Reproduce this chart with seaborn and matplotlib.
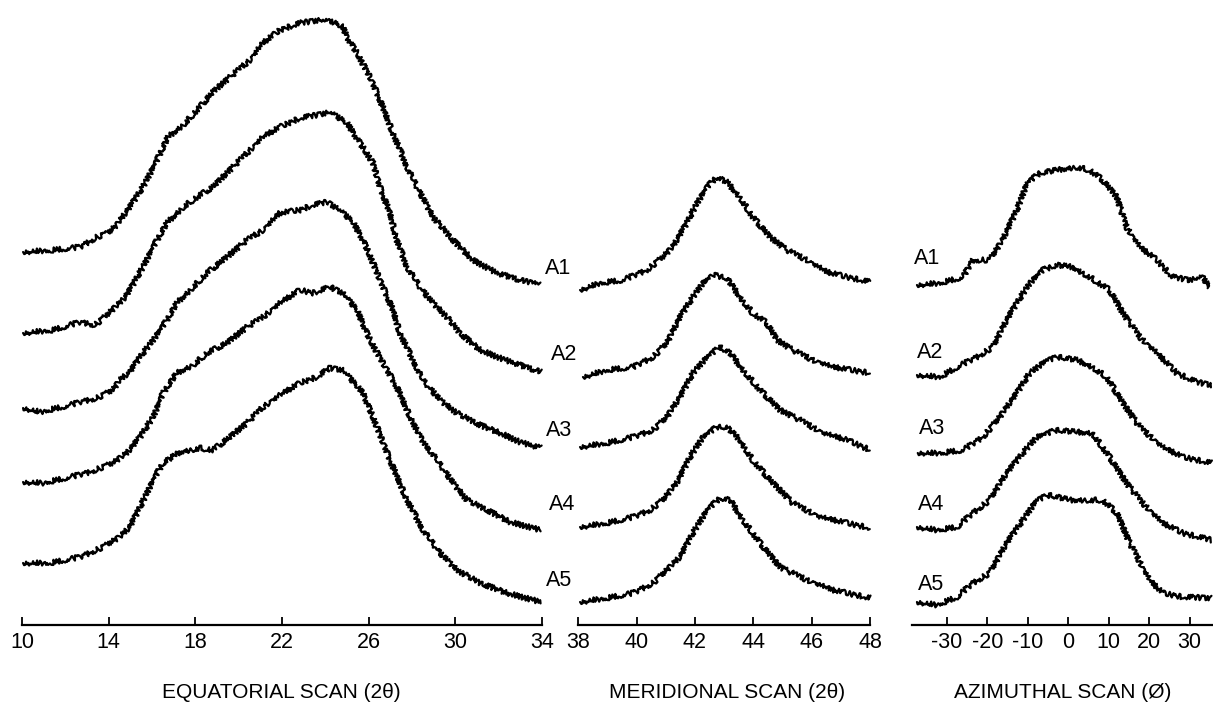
import matplotlib
matplotlib.use("Agg")
import matplotlib.pyplot as plt
import numpy as np
import pandas as pd
import seaborn as sns

# ---------------------------------------------------------------------------
# Stacked X-ray scans of samples A1..A5 (intensity includes vertical offset)
# ---------------------------------------------------------------------------
SAMPLES = ["A1", "A2", "A3", "A4", "A5"]

# Equatorial scan, 2-theta (deg)
EQ_A1_X = [10.05, 11.43, 12.68, 13.46, 13.97, 14.38, 14.98, 15.58, 16.23, 16.74, 17.43, 18.21,
           18.81, 19.60, 20.52, 21.12, 21.91, 22.83, 23.75, 24.35, 24.81, 25.00, 25.46, 26.06,
           26.52, 27.12, 27.77, 28.37, 28.97, 29.89, 30.81, 31.92, 32.98, 33.90]
EQ_A1_Y = [373, 375, 378, 388, 392, 400, 418, 438, 465, 488, 500, 518,
           533, 548, 565, 582, 595, 602, 605, 603, 598, 588, 572, 548,
           525, 492, 458, 432, 408, 385, 365, 352, 345, 340]

EQ_A2_X = [10.05, 11.43, 12.68, 13.37, 13.92, 14.66, 14.98, 15.58, 16.05, 16.69, 17.43, 18.08,
           18.81, 19.46, 20.38, 21.12, 21.91, 22.83, 23.61, 24.21, 25.00, 25.60, 26.20, 26.52,
           26.98, 27.30, 27.77, 28.37, 28.83, 29.61, 30.21, 31.14, 32.06, 32.98, 33.95]
EQ_A2_Y = [292, 295, 303, 300, 310, 325, 335, 358, 378, 402, 418, 428,
           438, 452, 472, 488, 498, 507, 510, 513, 502, 482, 462, 438,
           412, 385, 358, 338, 325, 308, 292, 275, 267, 260, 253]

EQ_A3_X = [10.05, 10.83, 12.22, 12.68, 13.46, 14.20, 14.52, 14.98, 15.45, 16.05, 16.69, 17.15,
           17.89, 18.54, 19.46, 20.38, 21.12, 21.91, 22.83, 23.43, 24.08, 24.67, 25.27, 25.74,
           26.20, 26.66, 27.12, 27.44, 28.04, 28.50, 29.29, 30.07, 31.14, 32.06, 32.98, 33.95]
EQ_A3_Y = [217, 213, 220, 223, 227, 235, 245, 253, 268, 285, 305, 322,
           338, 352, 368, 385, 395, 412, 415, 420, 423, 415, 403, 385,
           362, 338, 315, 292, 265, 245, 225, 212, 200, 192, 183, 177]

EQ_A4_X = [10.05, 10.97, 12.22, 13.14, 14.20, 14.85, 15.45, 16.05, 16.51, 17.15, 17.89, 18.54,
           19.46, 20.38, 21.12, 21.91, 22.83, 23.43, 24.21, 24.81, 25.46, 26.06, 26.66, 27.30,
           27.77, 28.37, 29.15, 29.89, 30.54, 31.46, 32.52, 33.95]
EQ_A4_Y = [143, 142, 148, 153, 162, 172, 188, 208, 232, 252, 260, 272,
           282, 298, 308, 322, 335, 332, 338, 332, 315, 285, 262, 238,
           215, 188, 165, 142, 125, 115, 103, 95]

EQ_A5_X = [10.05, 11.29, 12.68, 13.74, 14.52, 14.98, 15.45, 16.05, 16.51, 17.29, 18.21, 18.81,
           19.60, 20.38, 21.12, 21.91, 22.83, 23.61, 24.21, 24.81, 25.74, 26.38, 26.98, 27.77,
           28.51, 29.29, 30.07, 31.14, 32.38, 33.95]
EQ_A5_Y = [62, 62, 68, 78, 88, 98, 118, 145, 162, 173, 177, 175,
           188, 202, 218, 230, 242, 248, 257, 255, 232, 198, 165, 125,
           95, 72, 55, 42, 32, 23]

# Meridional scan, 2-theta (deg)
ME_A1_X = [38.06, 38.74, 39.53, 40.35, 40.90, 41.24, 41.72, 42.07, 42.41, 42.75, 43.09, 43.54,
           43.98, 44.57, 45.15, 45.84, 46.52, 47.21, 48.00]
ME_A1_Y = [335, 342, 345, 355, 368, 378, 402, 422, 438, 448, 443, 428,
           408, 388, 375, 365, 353, 348, 343]

ME_A2_X = [38.16, 38.98, 39.88, 40.56, 41.04, 41.49, 41.93, 42.27, 42.62, 43.09, 43.54, 43.98,
           44.46, 44.81, 45.35, 46.04, 46.72, 48.00]
ME_A2_Y = [248, 255, 258, 268, 282, 308, 328, 342, 350, 347, 328, 312,
           302, 285, 275, 265, 258, 252]

ME_A3_X = [38.06, 38.98, 39.88, 40.56, 41.04, 41.49, 41.93, 42.41, 42.86, 43.20, 43.65, 44.23,
           44.91, 45.60, 46.39, 47.21, 48.00]
ME_A3_Y = [178, 182, 188, 195, 208, 228, 252, 268, 278, 272, 255, 235,
           215, 205, 192, 185, 175]

ME_A4_X = [38.06, 38.98, 39.88, 40.46, 40.90, 41.38, 41.83, 42.27, 42.75, 43.09, 43.54, 43.98,
           44.57, 45.35, 46.28, 47.21, 48.00]
ME_A4_Y = [98, 102, 108, 115, 125, 142, 168, 188, 198, 198, 185, 165,
           145, 122, 108, 102, 97]

ME_A5_X = [38.06, 38.98, 39.88, 40.56, 41.04, 41.49, 41.93, 42.41, 42.86, 43.20, 43.65, 44.23,
           44.91, 45.84, 46.72, 48.00]
ME_A5_Y = [23, 27, 32, 42, 55, 68, 92, 115, 127, 125, 105, 82,
           58, 45, 35, 27]

# Azimuthal scan, phi (deg)
AZ_A1_X = [-37.4, -31.7, -26.0, -23.6, -19.4, -16.2, -12.7, -10.2, -7.0, -2.8, 2.1, 5.3,
           8.5, 12.0, 14.4, 17.7, 21.9, 25.8, 30.0, 33.2, 34.9]
AZ_A1_Y = [340, 342, 348, 365, 365, 385, 415, 442, 452, 455, 458, 455,
           445, 428, 398, 378, 365, 348, 345, 348, 338]

AZ_A2_X = [-37.4, -31.7, -27.5, -22.6, -18.6, -15.2, -12.7, -9.5, -6.3, -2.8, 1.1, 5.3,
           10.2, 13.5, 17.7, 21.9, 26.8, 31.7, 35.4]
AZ_A2_Y = [250, 248, 258, 268, 278, 305, 322, 342, 355, 360, 358, 348,
           335, 312, 288, 272, 252, 243, 240]

AZ_A3_X = [-37.2, -31.7, -26.0, -21.1, -16.9, -12.7, -9.5, -5.3, -2.1, 2.1, 6.0, 9.5,
           13.5, 17.7, 23.3, 28.3, 35.4]
AZ_A3_Y = [172, 172, 175, 188, 208, 232, 252, 265, 268, 265, 258, 248,
           222, 198, 178, 168, 162]

AZ_A4_X = [-37.4, -32.5, -27.5, -23.6, -19.4, -15.2, -11.2, -7.8, -2.8, 2.1, 6.0, 10.2,
           14.4, 18.4, 23.3, 28.3, 35.4]
AZ_A4_Y = [98, 95, 98, 112, 125, 152, 172, 188, 195, 193, 192, 168,
           142, 122, 102, 92, 85]

AZ_A5_X = [-37.4, -32.5, -27.5, -23.6, -19.4, -15.2, -11.2, -7.8, -4.6, 0.4, 5.3, 8.5,
           12.0, 15.2, 20.1, 23.3, 28.3, 35.4]
AZ_A5_Y = [23, 20, 28, 42, 52, 82, 105, 125, 130, 125, 125, 125,
           112, 82, 45, 32, 28, 27]

EQ_TICKS = [10, 14, 18, 22, 26, 30, 34]
ME_TICKS = [38, 40, 42, 44, 46, 48]
AZ_TICKS = [-30, -20, -10, 0, 10, 20, 30]

TITLES = ["EQUATORIAL SCAN (2θ)", "MERIDIONAL SCAN (2θ)", "AZIMUTHAL SCAN (Ø)"]


def long_frame(xs, ys):
    rows = []
    for name, x, y in zip(SAMPLES, xs, ys):
        rows.append(pd.DataFrame({"angle": x, "intensity": y, "sample": name}))
    return pd.concat(rows, ignore_index=True)


eq_df = long_frame([EQ_A1_X, EQ_A2_X, EQ_A3_X, EQ_A4_X, EQ_A5_X],
                   [EQ_A1_Y, EQ_A2_Y, EQ_A3_Y, EQ_A4_Y, EQ_A5_Y])
me_df = long_frame([ME_A1_X, ME_A2_X, ME_A3_X, ME_A4_X, ME_A5_X],
                   [ME_A1_Y, ME_A2_Y, ME_A3_Y, ME_A4_Y, ME_A5_Y])
az_df = long_frame([AZ_A1_X, AZ_A2_X, AZ_A3_X, AZ_A4_X, AZ_A5_X],
                   [AZ_A1_Y, AZ_A2_Y, AZ_A3_Y, AZ_A4_Y, AZ_A5_Y])

sns.set_theme(style="white")
plt.rcParams["font.family"] = ["Liberation Sans", "DejaVu Sans"]
plt.rcParams["axes.unicode_minus"] = False
plt.rcParams["text.color"] = "black"
plt.rcParams["xtick.color"] = "black"
plt.rcParams["xtick.labelcolor"] = "black"

W, H = 1213, 718
fig = plt.figure(figsize=(W / 100, H / 100), dpi=100)

base_px = 625  # pixel row of the x-axis line
bottom = (H - base_px) / H
height = base_px / H

panels = [
    # df, left px, right px, xlim, ticks, label positions (x, y)
    (eq_df, 22, 542, (10, 34), EQ_TICKS,
     [(34.73, 357), (35.0, 270), (34.78, 195), (34.92, 120), (34.78, 45)]),
    (me_df, 578.3, 870, (38, 48), ME_TICKS, None),
    (az_df, 911.7, 1213, (-38.7, 35.8), AZ_TICKS,
     [(-34.9, 367), (-34.2, 272), (-33.7, 197), (-34.0, 120), (-34.0, 41)]),
]

axes = []
for df, lpx, rpx, xlim, ticks, labels in panels:
    ax = fig.add_axes([lpx / W, bottom, (rpx - lpx) / W, height])
    sns.lineplot(data=df, x="angle", y="intensity", units="sample", estimator=None,
                 sort=False, color="black", linewidth=1.6, ax=ax, legend=False)
    for ln in ax.lines:
        # jagged trace look of a chart-recorder scan
        ln.set_sketch_params(scale=2.6, length=1.6, randomness=4.0)
        ln.set_clip_on(False)
    ax.set_xlim(*xlim)
    ax.set_ylim(0, base_px)
    ax.set_xticks(ticks)
    ax.set_xticklabels([str(t) for t in ticks])
    ax.set_yticks([])
    ax.set_xlabel("")
    ax.set_ylabel("")
    for side in ("top", "left", "right"):
        ax.spines[side].set_visible(False)
    ax.spines["bottom"].set_color("black")
    ax.spines["bottom"].set_linewidth(1.6)
    ax.tick_params(axis="x", direction="in", length=5.5, width=1.3, color="black",
                   labelcolor="black", labelsize=15.5, pad=5, bottom=True)
    ax.patch.set_alpha(0)
    if labels:
        for name, (lx, ly) in zip(SAMPLES, labels):
            ax.text(lx, ly, name, ha="center", va="center", fontsize=15.5,
                    color="black", clip_on=False)
    axes.append(ax)

for title, cx in zip(TITLES, [281, 727, 1063]):
    fig.text(cx / W, (H - 693) / H, title, ha="center", va="center", fontsize=15,
             color="black")

fig.savefig("out.png", dpi=100)
